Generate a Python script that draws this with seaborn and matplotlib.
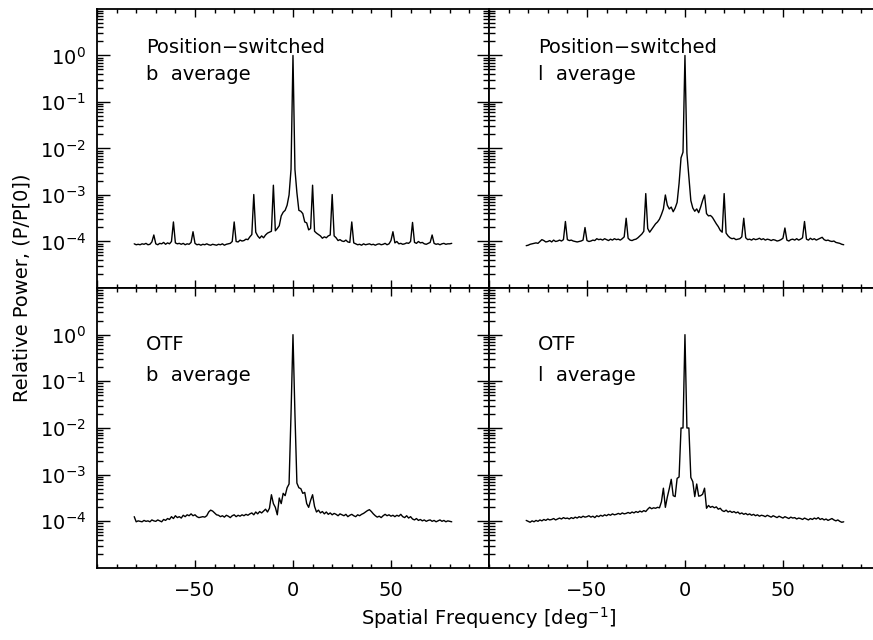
import numpy as np
import pandas as pd
import seaborn as sns
import matplotlib.pyplot as plt
from matplotlib.ticker import MultipleLocator, LogLocator, NullFormatter

# spatial frequency grid [deg^-1], one sample per unit
freq = np.arange(-81, 82)

# log10 of relative power (one row = 10 samples)
ps_b = [
    -4.05, -4.07, -4.06, -4.07, -4.05, -4.06, -4.04, -4.07, -4.06, -4.01,   # -81..-72
    -3.86, -4.05, -4.07, -4.04, -4.05, -4.02, -4.06, -4.03, -4.05, -4.00,   # -71..-62
    -3.58, -4.03, -4.05, -4.04, -4.06, -4.04, -4.07, -4.05, -4.06, -4.02,   # -61..-52
    -3.79, -4.04, -4.07, -4.06, -4.08, -4.06, -4.07, -4.05, -4.07, -4.08,   # -51..-42
    -4.06, -4.07, -4.08, -4.06, -4.07, -4.05, -4.08, -4.06, -4.05, -4.04,   # -41..-32
    -4.00, -3.58, -4.00, -4.01, -3.97, -3.99, -3.98, -3.95, -3.96, -3.90,   # -31..-22
    -3.85, -2.99, -3.80, -3.88, -3.93, -3.88, -3.92, -3.86, -3.82, -3.80,   # -21..-12
    -3.78, -2.79, -3.77, -3.72, -3.66, -3.45, -3.37, -3.33, -3.22, -3.00,   # -11..-2
    -2.45, 0.00, -2.45, -2.95, -3.33, -3.35, -3.40, -3.58, -3.60, -3.75,    # -1..8
    -3.72, -2.79, -3.78, -3.82, -3.85, -3.88, -3.93, -3.90, -3.92, -3.88,   # 9..18
    -3.86, -2.99, -3.88, -3.92, -3.98, -3.96, -3.99, -4.00, -3.97, -4.01,   # 19..28
    -4.02, -3.58, -4.03, -4.05, -4.07, -4.06, -4.08, -4.05, -4.07, -4.06,   # 29..38
    -4.05, -4.07, -4.06, -4.08, -4.06, -4.05, -4.07, -4.06, -4.04, -4.07,   # 39..48
    -4.05, -3.98, -3.79, -4.03, -4.00, -4.05, -4.04, -4.06, -4.05, -4.03,   # 49..58
    -4.04, -4.00, -3.59, -4.02, -4.04, -4.00, -4.03, -4.02, -4.05, -4.06,   # 59..68
    -4.04, -4.02, -3.86, -4.04, -4.06, -4.05, -4.07, -4.05, -4.04, -4.06,   # 69..78
    -4.05, -4.05, -4.04,                                                    # 79..81
]

ps_l = [
    -4.09, -4.08, -4.06, -4.05, -4.04, -4.03, -4.04, -4.00, -3.96, -3.98,
    -4.01, -4.00, -3.98, -4.01, -3.97, -4.00, -3.99, -3.97, -3.99, -3.96,
    -3.57, -3.96, -3.98, -3.97, -3.99, -4.00, -4.01, -4.00, -3.99, -3.97,
    -3.70, -3.98, -4.00, -3.99, -3.97, -3.98, -3.94, -3.96, -3.95, -3.97,
    -3.94, -3.96, -3.98, -3.95, -3.97, -3.94, -3.96, -3.95, -3.97, -3.94,
    -3.90, -3.50, -3.93, -3.97, -3.98, -3.96, -3.95, -3.92, -3.88, -3.84,
    -3.78, -2.97, -3.72, -3.80, -3.74, -3.68, -3.62, -3.58, -3.52, -3.42,
    -3.30, -3.00, -3.22, -3.30, -3.26, -3.36, -3.28, -3.16, -2.75, -2.20,
    -2.08, 0.00, -2.10, -2.60, -3.12, -3.28, -3.35, -3.30, -3.38, -3.26,
    -3.12, -3.00, -3.40, -3.45, -3.44, -3.48, -3.55, -3.62, -3.68, -3.76,
    -3.80, -2.97, -3.82, -3.88, -3.92, -3.94, -3.93, -3.96, -3.95, -3.94,
    -3.90, -3.50, -3.92, -3.96, -3.95, -3.97, -3.94, -3.96, -3.95, -3.93,
    -3.96, -3.94, -3.97, -3.95, -3.96, -3.98, -3.96, -3.97, -3.99, -3.98,
    -3.96, -3.93, -3.71, -3.97, -3.99, -3.96, -3.95, -3.97, -3.94, -3.97,
    -3.95, -3.92, -3.57, -3.95, -3.97, -3.93, -3.96, -3.94, -3.97, -3.95,
    -3.93, -3.91, -3.96, -3.98, -3.97, -3.99, -4.00, -3.99, -4.02, -4.03,
    -4.04, -4.06, -4.07,
]

otf_b = [
    -3.90, -4.01, -3.99, -4.00, -4.01, -3.98, -4.00, -3.99, -4.01, -3.97,
    -3.99, -4.00, -3.97, -3.99, -4.01, -3.96, -3.98, -3.94, -3.96, -3.90,
    -3.94, -3.88, -3.92, -3.90, -3.93, -3.87, -3.90, -3.86, -3.88, -3.84,
    -3.88, -3.86, -3.90, -3.92, -3.91, -3.90, -3.91, -3.88, -3.80, -3.76,
    -3.78, -3.82, -3.86, -3.87, -3.90, -3.88, -3.91, -3.87, -3.89, -3.92,
    -3.88, -3.86, -3.90, -3.87, -3.89, -3.86, -3.88, -3.85, -3.87, -3.84,
    -3.82, -3.86, -3.80, -3.84, -3.79, -3.82, -3.78, -3.74, -3.80, -3.72,
    -3.43, -3.62, -3.70, -3.86, -3.50, -3.62, -3.40, -3.45, -3.28, -3.20,
    -1.70, 0.00, -1.70, -3.18, -3.28, -3.30, -3.40, -3.38, -3.62, -3.70,
    -3.55, -3.43, -3.68, -3.80, -3.76, -3.82, -3.79, -3.84, -3.80, -3.85,
    -3.82, -3.86, -3.83, -3.85, -3.88, -3.84, -3.86, -3.88, -3.85, -3.90,
    -3.87, -3.85, -3.88, -3.90, -3.86, -3.88, -3.85, -3.83, -3.80, -3.77,
    -3.75, -3.79, -3.84, -3.88, -3.91, -3.89, -3.92, -3.88, -3.85, -3.88,
    -3.86, -3.89, -3.87, -3.90, -3.87, -3.89, -3.85, -3.90, -3.92, -3.88,
    -3.93, -3.90, -3.95, -3.97, -3.94, -3.98, -3.96, -3.99, -3.97, -4.00,
    -3.98, -3.97, -4.00, -3.98, -4.01, -3.99, -3.97, -4.00, -3.98, -4.01,
    -3.99, -4.00, -4.01,
]

otf_l = [
    -3.98, -4.00, -4.02, -3.99, -4.01, -3.98, -4.00, -3.97, -3.99, -3.96,
    -3.98, -3.95, -3.97, -3.96, -3.94, -3.97, -3.95, -3.93, -3.95, -3.92,
    -3.94, -3.93, -3.95, -3.92, -3.94, -3.91, -3.93, -3.90, -3.92, -3.89,
    -3.91, -3.90, -3.88, -3.91, -3.89, -3.92, -3.88, -3.90, -3.87, -3.89,
    -3.86, -3.88, -3.85, -3.87, -3.84, -3.86, -3.85, -3.83, -3.85, -3.82,
    -3.84, -3.83, -3.81, -3.83, -3.80, -3.82, -3.79, -3.81, -3.78, -3.80,
    -3.77, -3.79, -3.74, -3.70, -3.73, -3.71, -3.72, -3.70, -3.71, -3.58,
    -3.29, -3.70, -3.48, -3.30, -3.10, -3.45, -3.47, -3.08, -3.05, -2.00,
    -2.00, 0.00, -2.00, -2.00, -3.06, -3.15, -3.47, -3.20, -3.46, -3.45,
    -3.42, -3.29, -3.72, -3.66, -3.70, -3.68, -3.71, -3.69, -3.74, -3.72,
    -3.77, -3.79, -3.76, -3.80, -3.78, -3.81, -3.79, -3.82, -3.80, -3.84,
    -3.82, -3.85, -3.83, -3.86, -3.84, -3.87, -3.85, -3.88, -3.86, -3.89,
    -3.87, -3.88, -3.90, -3.87, -3.89, -3.91, -3.88, -3.90, -3.92, -3.89,
    -3.91, -3.93, -3.90, -3.92, -3.94, -3.91, -3.93, -3.92, -3.95, -3.93,
    -3.94, -3.96, -3.93, -3.95, -3.97, -3.94, -3.96, -3.93, -3.95, -3.92,
    -3.96, -3.94, -3.97, -3.95, -3.98, -3.96, -3.94, -3.97, -3.99, -3.97,
    -4.00, -4.02, -4.01,
]

titles = [["Position\u2212switched", "b  average"],
          ["Position\u2212switched", "l  average"],
          ["OTF", "b  average"],
          ["OTF", "l  average"]]
series = [ps_b, ps_l, otf_b, otf_l]

sns.set_style("ticks")
plt.rcParams['font.family'] = ['DejaVu Sans']
plt.rcParams['font.size'] = 14
plt.rcParams['text.color'] = 'black'
plt.rcParams['axes.labelcolor'] = 'black'
plt.rcParams['xtick.color'] = 'black'
plt.rcParams['ytick.color'] = 'black'

fig = plt.figure(figsize=(8.73, 6.40), dpi=100)

# panel boxes in figure fraction; right column runs past the image edge
boxes = [[0.1111, 0.55, 0.449, 0.436],
         [0.5601, 0.55, 0.449, 0.436],
         [0.1111, 0.1125, 0.449, 0.4375],
         [0.5601, 0.1125, 0.449, 0.4375]]

for i in range(4):
    ax = fig.add_axes(boxes[i])
    df = pd.DataFrame({'freq': freq, 'power': 10.0 ** np.array(series[i])})
    sns.lineplot(data=df, x='freq', y='power', ax=ax, color='black',
                 linewidth=1.0, estimator=None)
    ax.set_yscale('log')
    ax.set_xlim(-100, 100)
    ax.set_ylim(1e-5, 1e1)
    ax.set_xlabel('')
    ax.set_ylabel('')

    ax.xaxis.set_major_locator(MultipleLocator(50))
    ax.xaxis.set_minor_locator(MultipleLocator(10))
    ax.set_yticks([1e-4, 1e-3, 1e-2, 1e-1, 1e0])
    ax.yaxis.set_minor_locator(LogLocator(base=10, subs=np.arange(2, 10), numticks=20))
    ax.yaxis.set_minor_formatter(NullFormatter())

    ax.tick_params(which='both', direction='in', top=True, right=(i % 2 == 0),
                   width=1.0, color='black', labelcolor='black')
    ax.tick_params(axis='x', which='major', length=6, pad=9)
    ax.tick_params(axis='x', which='minor', length=3)
    ax.tick_params(axis='y', which='major', length=9, pad=8)
    ax.tick_params(axis='y', which='minor', length=4)
    for sp in ax.spines.values():
        sp.set_linewidth(1.3)
        sp.set_color('black')

    if i < 2:
        ax.tick_params(axis='x', labelbottom=False)
    else:
        ax.set_xticks([-50, 0, 50])
    if i % 2 == 1:
        ax.tick_params(axis='y', labelleft=False)

    if i < 2:
        ax.text(-75, 10 ** 0.05, titles[i][0], ha='left', va='baseline', fontsize=14)
        ax.text(-75, 10 ** -0.535, titles[i][1], ha='left', va='baseline', fontsize=14)
    else:
        ax.text(-75, 10 ** -0.32, titles[i][0], ha='left', va='baseline', fontsize=14)
        ax.text(-75, 10 ** -1.0, titles[i][1], ha='left', va='baseline', fontsize=14)

fig.text(0.025, 0.55, 'Relative Power, (P/P[0])', rotation=90,
         ha='center', va='center', fontsize=14)
fig.text(0.56, 0.035, 'Spatial Frequency [deg$^{-1}$]',
         ha='center', va='center', fontsize=14)

fig.savefig('out.png', dpi=100)
